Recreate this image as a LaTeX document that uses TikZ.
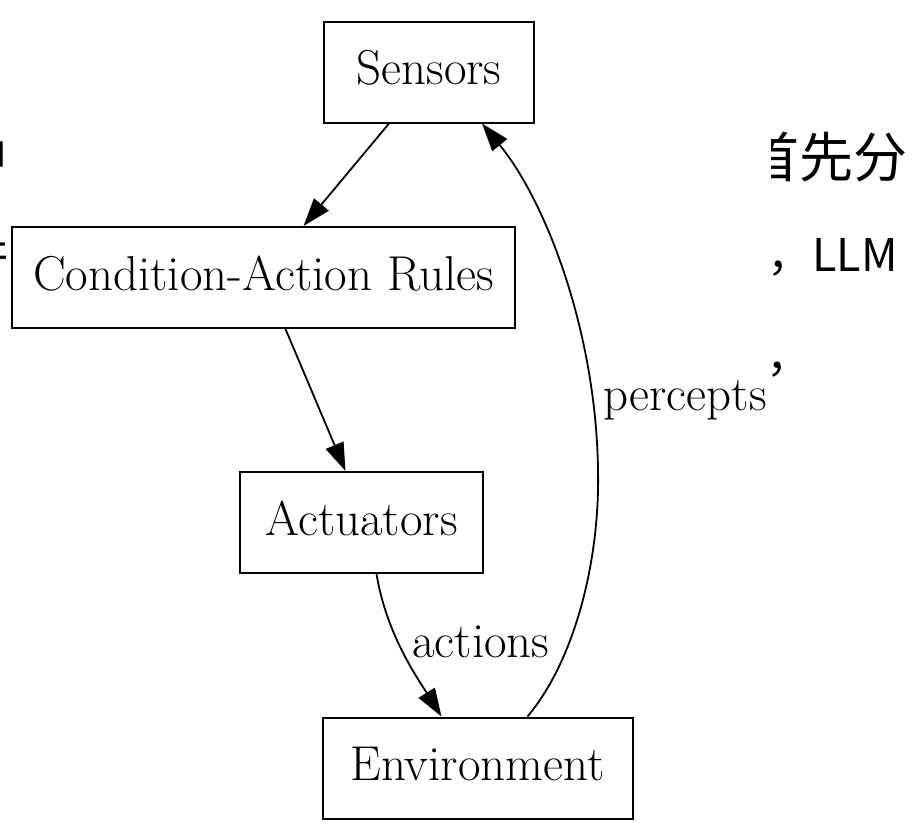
\documentclass[tikz,border=0pt]{standalone}
\usepackage{fontspec}
\newfontfamily\cjk{Noto Sans CJK SC}
\usetikzlibrary{arrows.meta}
\begin{document}
\begin{tikzpicture}[x=1pt,y=-1pt,
    blk/.style={draw,line width=2pt,minimum height=101pt,inner sep=0pt,
      font=\fontsize{49}{58}\selectfont,text height=34.3pt,text depth=9.3pt},
    lnk/.style={line width=1.8pt,-{Triangle[length=28pt,width=19pt]}},
    lbl/.style={font=\fontsize{49}{58}\selectfont,anchor=base,inner sep=0pt},
    bg/.style={inner sep=0pt}]
  \useasboundingbox (0,0) rectangle (918,828);
  % text behind the figure
  \node[bg,font=\cjk\fontsize{54}{60}\selectfont,anchor=base east] (t1) at (908,177) {首先分};
  \node[bg,font=\cjk\fontsize{45}{50}\selectfont,anchor=base west] (t2) at (767,271) {，LLM};
  \node[bg,font=\cjk\fontsize{45}{50}\selectfont,anchor=base west] (t3) at (766,372) {，};
  \node[bg,font=\cjk\fontsize{54}{60}\selectfont,anchor=base east] (l1) at (9,177) {中};
  \node[bg,font=\cjk\fontsize{45}{50}\selectfont,anchor=base east] (l2) at (10,271) {件};
  \fill[white] (6,0) rectangle (771,828);
  % the diagram
  \node[blk,minimum width=210pt] (sens) at (429,72) {Sensors};
  \node[blk,minimum width=503pt] (rules) at (263.5,277.5) {Condition-Action Rules};
  \node[blk,minimum width=243pt] (act) at (361.5,522.5) {Actuators};
  \node[blk,minimum width=310pt] (env) at (477.5,768) {Environment};
  \draw[lnk] ([xshift=-40pt]sens.south) -- ([xshift=40pt]rules.north);
  \draw[lnk] ([xshift=22pt]rules.south) -- ([xshift=-16pt]act.north);
  \draw[lnk] ([xshift=15pt]act.south) .. controls +(10,60) and +(-25,-40) .. ([xshift=-36pt]env.north);
  \node[lbl] (actlbl) at (481,657) {actions};
  \coordinate (pbend) at (598,470);
  \draw[lnk] ([xshift=50pt]env.north) .. controls (575,660) and (600,560) .. (pbend)
    .. controls (596,330) and (545,200) .. ([xshift=53pt]sens.south);
  \node[lbl] (perclbl) at (685,410) {percepts};
\end{tikzpicture}
\end{document}
